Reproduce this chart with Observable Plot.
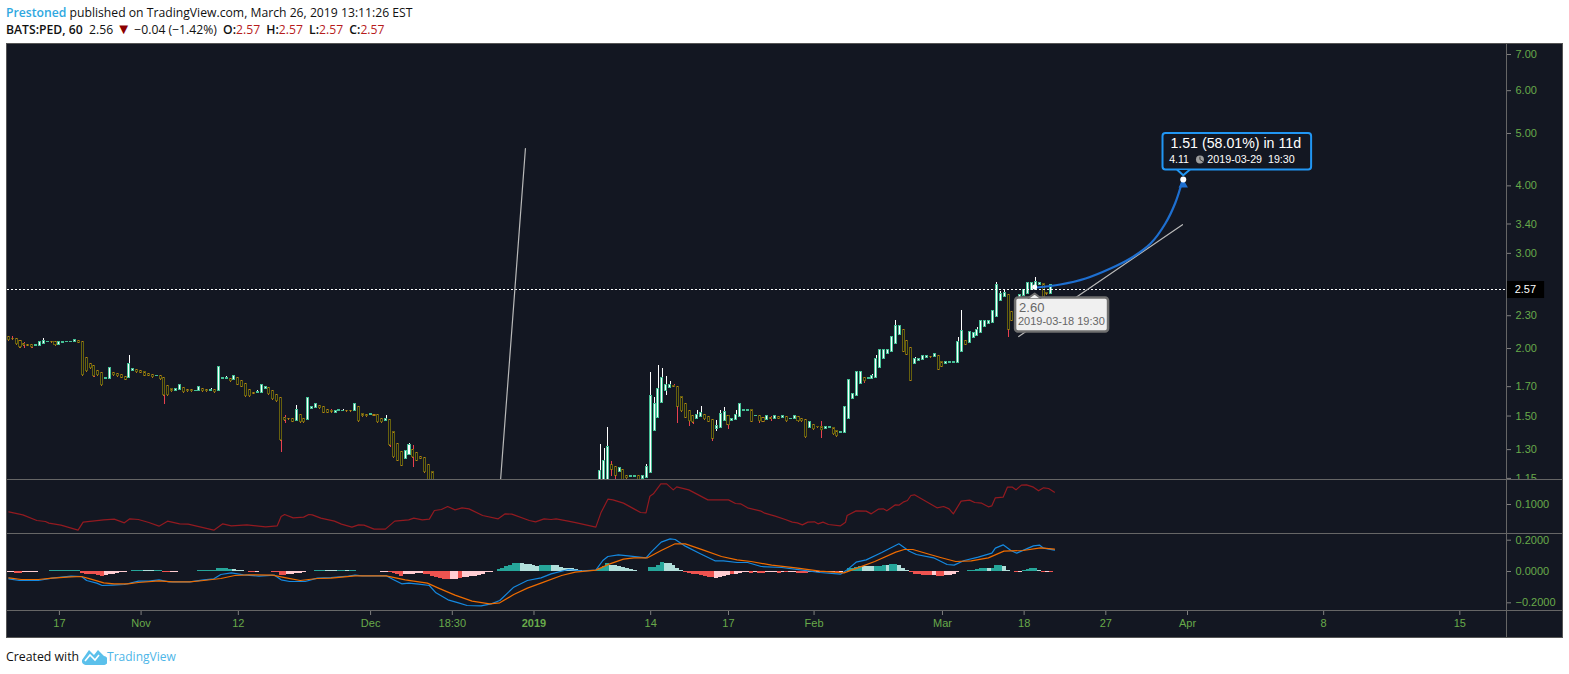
<!DOCTYPE html>
<html>
<head>
<meta charset="utf-8">
<script src="https://cdn.jsdelivr.net/npm/d3@7"></script>
<script src="https://cdn.jsdelivr.net/npm/@observablehq/plot@0.6"></script>
<style>
html,body{margin:0;padding:0;background:#fff;width:1569px;height:674px;overflow:hidden;}
#head{position:absolute;left:6px;top:4px;font:12.2px/17px "Open Sans",sans-serif;color:#111;white-space:pre;}
#head .who{color:#2fa8df;font-weight:600}
#head b{font-weight:600}
#head .v{color:#b71c1c;margin-right:3px}
#head .t{color:#8b0000;font-size:15px;line-height:12px}
#head .g{margin-left:3px}
#frame{position:absolute;left:6px;top:43px;width:1557px;height:595px;box-sizing:border-box;border:1px solid #555;background:#131722;}
#panes svg{display:block;overflow:hidden;background:transparent}
.div{height:1px;background:#666;width:1555px}
#vline{position:absolute;left:1499px;top:0;width:1px;height:593px;background:#666}
#foot{position:absolute;left:6px;top:648px;font:12.3px/17px "Open Sans",sans-serif;color:#111;white-space:pre;display:flex;align-items:center}
#foot span{color:#4db6e8;margin-left:0;font-size:12px}
#foot svg{margin-left:3px}
</style>
</head>
<body>
<div id="head"><span class="who">Prestoned</span> published on TradingView.com, March 26, 2019 13:11:26 EST
<b>BATS:PED, 60</b>  2.56 <span class="t">▼</span> −0.04 (−1.42%) <b class="g">O:</b><span class="v">2.57</span> <b>H:</b><span class="v">2.57</span> <b>L:</b><span class="v">2.57</span> <b>C:</b><span class="v">2.57</span></div>
<div id="frame"><div id="panes"></div><div id="vline"></div></div>
<div id="foot">Created with<svg width="25" height="16" viewBox="0 0 25 16"><path d="M0 11 L7 1 L12 6 L16 1 L22 7 A4.5 4.5 0 0 1 21 16 L4 16 A4 4 0 0 1 0 11 Z" fill="#5bc0eb"/><path d="M3 12 L8 6 L13 11 L17 6" fill="none" stroke="#fff" stroke-width="1.6"/></svg><span>TradingView</span></div>
<script>
// ---- Candles: bars 0..109 and 152..268 (the bars between sit below the visible price range)
const firstStart = 0;
const firstOpen = [2.102,2.084,2.084,2.066,2.040,2.031,2.031,2.020,2.020,2.037,2.054,2.057,2.057,2.034,2.046,2.054,2.057,2.054,2.069,2.057,
1.922,1.874,1.858,1.818,1.803,1.755,1.755,1.803,1.795,1.787,1.772,1.763,1.816,1.826,1.818,1.808,1.795,1.787,1.777,1.780,
1.765,1.706,1.682,1.667,1.674,1.691,1.677,1.677,1.667,1.667,1.684,1.677,1.672,1.677,1.667,1.755,1.755,1.758,1.748,1.765,
1.743,1.720,1.677,1.655,1.653,1.653,1.682,1.691,1.670,1.641,1.620,1.488,1.482,1.482,1.467,1.507,1.482,1.474,1.544,1.550,
1.566,1.559,1.540,1.531,1.522,1.531,1.531,1.533,1.533,1.531,1.559,1.513,1.507,1.505,1.507,1.507,1.482,1.467,1.476,1.400,
1.332,1.288,1.249,1.270,1.299,1.283,1.261,1.256,1.220,1.181];
const firstClose = [2.072,2.081,2.037,2.011,2.026,2.023,2.011,2.034,2.060,2.069,2.057,2.054,2.029,2.057,2.057,2.057,2.060,2.075,2.049,1.785,
1.816,1.839,1.777,1.785,1.710,1.765,1.842,1.785,1.777,1.765,1.750,1.874,1.834,1.808,1.803,1.780,1.780,1.770,1.780,1.755,
1.639,1.639,1.667,1.684,1.713,1.660,1.667,1.667,1.670,1.699,1.667,1.667,1.679,1.660,1.850,1.765,1.765,1.740,1.780,1.713,
1.699,1.632,1.632,1.648,1.662,1.713,1.699,1.646,1.611,1.597,1.352,1.474,1.480,1.463,1.540,1.461,1.461,1.620,1.559,1.579,
1.552,1.520,1.520,1.526,1.533,1.542,1.535,1.531,1.531,1.579,1.467,1.499,1.499,1.513,1.501,1.461,1.461,1.484,1.324,1.259,
1.239,1.213,1.293,1.326,1.259,1.239,1.251,1.180,1.130,1.120];
const secondStart = 152;
const secondOpen = [1.120,1.120,1.130,1.218,1.208,1.180,1.193,1.162,1.156,1.156,1.162,1.145,1.153,1.176,1.405,1.486,1.584,1.672,1.691,1.703,
1.698,1.626,1.579,1.533,1.501,1.480,1.495,1.507,1.495,1.476,1.417,1.425,1.467,1.501,1.467,1.474,1.495,1.535,1.535,1.539,
1.499,1.501,1.488,1.476,1.488,1.480,1.495,1.488,1.495,1.480,1.480,1.495,1.482,1.476,1.423,1.445,1.431,1.431,1.417,1.423,
1.425,1.407,1.393,1.395,1.482,1.614,1.634,1.720,1.765,1.755,1.755,1.765,1.842,1.913,1.955,1.969,2.040,2.117,2.165,2.066,
2.006,1.874,1.896,1.905,1.922,1.930,1.930,1.938,1.888,1.871,1.877,1.880,1.883,1.969,2.066,2.048,2.093,2.110,2.135,2.193,
2.222,2.228,2.289,2.454,2.492,2.515,2.338,2.300,2.450,2.500,2.525,2.561,2.561,2.617,2.632,2.529,2.525];
const secondClose = [1.187,1.239,1.314,1.193,1.162,1.203,1.130,1.151,1.162,1.162,1.143,1.162,1.208,1.634,1.579,1.684,1.765,1.713,1.713,1.701,
1.559,1.531,1.488,1.467,1.461,1.507,1.520,1.480,1.463,1.363,1.438,1.513,1.527,1.445,1.482,1.507,1.579,1.539,1.539,1.463,
1.503,1.467,1.463,1.501,1.484,1.501,1.482,1.501,1.467,1.484,1.501,1.467,1.467,1.369,1.463,1.419,1.429,1.413,1.431,1.431,
1.389,1.375,1.401,1.559,1.750,1.648,1.811,1.811,1.738,1.765,1.782,1.916,1.989,1.989,1.989,2.102,2.203,2.203,1.972,1.947,
1.743,1.913,1.913,1.938,1.938,1.927,1.955,1.828,1.850,1.886,1.886,1.891,2.057,2.155,2.031,2.146,2.135,2.165,2.250,2.250,
2.250,2.348,2.624,2.525,2.533,2.165,2.250,2.440,2.510,2.563,2.644,2.644,2.655,2.644,2.489,2.521,2.624];
const wickBars = [1,4,6,9,22,31,40,42,52,56,64,70,71,74,83,86,97,98,103,104,
152,153,154,155,156,164,165,166,167,168,169,170,171,172,174,175,176,177,178,181,182,183,184,185,187,193,196,209,220,222,223,228,233,244,245,249,254,255,256,257,264];
const wickHighs = [2.105,2.052,null,2.087,null,1.941,null,1.686,1.686,1.775,1.672,null,1.501,1.572,1.540,1.542,1.503,null,1.332,1.321,
1.331,1.305,1.431,1.234,null,1.220,1.803,1.620,1.860,1.834,1.775,1.738,1.715,null,null,null,null,1.533,1.562,null,1.470,1.539,1.553,null,1.533,null,1.497,1.463,null,1.790,1.941,2.250,1.923,2.093,2.349,2.187,2.647,2.547,2.565,null,2.702];
const wickLows = [null,2.000,2.000,null,1.770,null,1.577,1.662,null,null,null,1.286,1.455,null,1.518,null,null,1.313,null,1.206,
null,null,null,1.159,1.143,null,null,null,null,null,1.636,null,1.691,1.455,1.482,1.437,1.449,null,null,1.346,1.405,null,null,1.417,null,1.455,1.467,1.363,1.725,null,null,null,null,null,null,null,null,null,null,2.093,null];

// ---- Upper indicator line
const bandBars = [0,3.6,7.2,9.4,10.3,13.4,17.8,19.1,24.4,27.1,29.7,31.1,33.3,36,38.6,40.8,43.9,46.1,52.7,55,57.2,61.2,66,69,70,70.9,73.1,75.8,77.1,78,80.2,83.7,85.5,88.2,89.9,91.3,93.9,96.8,99.2,102.8,104.1,106.3,108.1,109.4,111.2,112.8,114.7,116.5,118.3,121.8,125.8,127.6,129.3,133.8,
135.4,137.6,139.4,140.7,143.8,146,150.9,152.2,154,155.3,158,160.7,162.4,163.8,164.8,165.7,167.6,169.1,170.8,171.7,174.8,179.7,185,186.8,188.1,189.9,193.4,194.3,197,199.6,201.4,202.7,204,205.4,207.1,208,209.3,210.7,213.8,215.1,215.5,217.8,220.4,221.7,223.5,224.8,225.7,227.9,228.8,229.9,231,231.9,232.8,238.6,240.3,241.7,242.8,244.8,247,248.3,250.1,251.8,252.7,253.6,255.6,256.7,258,258.9,260.3,261.6,263.4,264.7,266,267.3,268.8];
const bandValues = [.0853,.0793,.068,.066,.0627,.0587,.0487,.0647,.0693,.0707,.0633,.0713,.07,.064,.0567,.0667,.0613,.0607,.0487,.0613,.0573,.0593,.0553,.0573,.076,.08,.0733,.0747,.08,.0793,.0727,.0667,.0607,.0547,.0593,.0587,.0507,.0507,.0667,.0693,.0727,.0693,.0707,.088,.09,.096,.0893,.0933,.0913,.078,.0713,.0813,.0807,.068,
.0653,.0713,.07,.0713,.0667,.0633,.0547,.0833,.1107,.1093,.1027,.0913,.084,.0833,.1167,.1213,.1413,.1413,.1293,.1353,.1293,.1093,.1093,.102,.1013,.0933,.0867,.0827,.0767,.07,.0647,.0633,.0593,.0647,.0653,.0613,.0647,.06,.0573,.0647,.078,.0873,.0867,.0813,.0907,.0913,.0873,.0993,.0987,.1047,.108,.118,.1193,.0933,.096,.0913,.0813,.1067,.1087,.104,.1027,.0953,.0973,.1133,.1147,.1347,.1347,.1293,.1387,.1393,.1347,.1273,.1333,.132,.1247];

// ---- MACD lines
const macdBars = [0,2.7,7.6,11.1,16,18.7,20,22.6,24,26.6,29.7,33.3,36,38.6,41.2,46.5,50.1,52.7,54.5,57.2,60.3,64.3,68.3,70,72.2,76.2,79.3,82.8,87.3,89,90.8,97,98.8,101,102.8,105.4,108.1,109.8,112.9,115.6,117.8,121.4,124,126.2,129.8,133.3,
136.8,139.4,143.8,147.4,150.9,152.7,154,156.7,159.8,163.8,165.1,167.7,170,171.3,173.9,177.5,181.5,183.7,187.2,189.9,193.4,198.7,204,208.5,213.8,215.5,217.8,220.4,224.4,228.8,231.5,233.3,237.7,241.2,243,245.6,249.2,252.7,253.6,255.6,257.6,259.1,261.6,263.4,265,266,268.8];
const macdValues = [-.0469,-.0575,-.0575,-.0426,-.0298,-.0319,-.0575,-.0745,-.0895,-.0873,-.0831,-.0618,-.0618,-.0532,-.066,-.066,-.0532,-.0469,-.0192,-.0085,-.0213,-.0298,-.0234,-.0532,-.0639,-.0639,-.0426,-.0383,-.0298,-.0234,-.0277,-.0277,-.0511,-.0788,-.0745,-.0809,-.0895,-.1363,-.181,-.2002,-.2173,-.2194,-.2066,-.1853,-.1001,-.0575,
-.0405,-.0149,.0128,.0043,.0085,.0703,.0958,.1065,.098,.0873,.1235,.1874,.2087,.2045,.1619,.1171,.0682,.0682,.0575,.0575,.0319,.0256,.0085,-.0064,-.017,.0106,.0596,.0745,.1214,.1768,.1299,.1086,.0873,.0447,.0405,.0703,.0916,.1171,.1491,.1704,.1342,.1171,.1448,.164,.1683,.1491,.1363];
const signalBars = [0,3.2,7.6,11.1,16,18.7,20.9,24.4,27.1,30.6,33.3,38.6,42.1,46.5,50.1,54.5,58.1,61.6,67.8,71.3,74.9,79.3,82.8,89,97,101.9,107.6,110.3,114.7,119.1,123.6,126.2,129.8,133.3,
136.8,142.1,145.6,150.9,154.5,158,160.7,164.2,167.7,171.3,173.9,178.4,183.2,187.2,190.8,196.1,202.3,208.5,214.7,218.2,222.6,228,230.2,232.4,236.8,239.5,243.4,247.4,251.8,255.8,260.7,265.2,268.8];
const signalValues = [-.0405,-.0511,-.0511,-.0426,-.0341,-.0319,-.0469,-.0724,-.0788,-.0788,-.0703,-.0596,-.066,-.066,-.0575,-.0447,-.0256,-.0213,-.0234,-.0405,-.0575,-.0447,-.0426,-.0277,-.0277,-.0532,-.0745,-.1044,-.1512,-.1896,-.2066,-.2002,-.147,-.1065,
-.0745,-.0256,-.0043,.0085,.049,.0788,.0873,.0873,.1342,.1768,.1768,.1384,.0958,.0745,.0639,.0405,.0234,.0021,-.0085,.0234,.0639,.1235,.1406,.1406,.1086,.0895,.0639,.0682,.0873,.1299,.1342,.1512,.1427];

// ---- MACD histogram: runs of [tone, first bar, values]
const histRuns = [["p",0,[-.008,-.008]],["r",2,[-.01,-.01]],["p",4,[-.008,-.008,-.006,-.004]],["t",11,[.004,.004,.004,.004,.004,.004,.004,.004]],
["r",19,[-.012,-.018,-.02,-.02,-.025,-.03]],["p",25,[-.026,-.022,-.018,-.012,-.008,-.004]],["t",32,[.004,.004,.004]],["a",35,[.004,.004,.004]],["t",38,[.004,.004]],
["r",40,[-.006,-.006]],["p",42,[-.004,-.004]],["t",49,[.004,.004,.004,.004,.004]],["t",54,[.018,.018,.018,.014]],["a",58,[.012,.008,.004]],["r",62,[-.005,-.005]],["p",64,[-.004]],
["r",68,[-.006,-.006,-.026,-.026]],["p",72,[-.022,-.018,-.014,-.01,-.006]],["t",79,[.004,.004,.004]],["a",82,[.004,.004,.004]],["t",85,[.004,.004]],["a",87,[.004]],["t",88,[.004,.004]],
["p",96,[-.004,-.004]],["r",98,[-.008,-.014,-.018,-.03]],["p",102,[-.022,-.018,-.016,-.014,-.014]],["r",107,[-.018,-.02,-.03,-.04,-.046,-.048,-.05]],["p",114,[-.05,-.05]],["r",116,[-.044]],
["p",117,[-.04,-.038,-.034,-.03,-.024,-.016,-.008,-.004]],["t",126,[.015,.022,.03,.036,.049,.05]],["a",132,[.05,.046,.044,.04,.032]],["t",137,[.04,.04,.04]],["a",140,[.038,.036,.024,.022,.018,.016,.012,.008]],
["t",151,[.006,.018,.03,.048]],["a",155,[.04,.036,.032,.026,.02,.014,.006]],["t",165,[.023,.026,.04,.056]],["a",169,[.052,.048,.036,.02,.008]],["r",174,[-.006,-.01,-.016,-.02,-.026,-.03,-.04,-.04]],
["p",182,[-.044,-.04,-.034,-.028]],["r",186,[-.02]],["p",187,[-.016,-.012,-.008,-.008]],["r",191,[-.01]],["p",192,[-.008]],["r",193,[-.01,-.01]],["p",195,[-.008,-.008,-.008]],["r",198,[-.01]],["p",199,[-.008]],["r",200,[-.008]],["p",201,[-.008,-.008]],
["r",203,[-.01,-.01,-.014]],["p",206,[-.008]],["r",207,[-.008]],["p",208,[-.008]],["r",209,[-.008]],["p",210,[-.006,-.006,-.006]],["r",213,[-.006]],["p",214,[-.004]],
["t",216,[.018,.02,.024,.03]],["a",220,[.03,.03,.03]],["t",223,[.03,.03,.036]],["a",226,[.036]],["t",227,[.044,.044]],["a",229,[.04,.022,.008]],
["r",232,[-.008,-.02,-.022,-.024,-.024,-.024]],["p",238,[-.024]],["r",239,[-.03,-.03]],["p",241,[-.026,-.026,-.016,-.008]],["t",247,[.004,.008,.012,.016,.016]],["a",252,[.016]],["t",253,[.018,.036,.038]],["a",256,[.03,.006]],
["r",259,[-.008]],["p",260,[-.006]],["t",261,[.008,.012,.016,.016]],["a",265,[.008]],["r",266,[-.004]],["p",267,[-.004]],["r",268,[-.008]]];
const toneColors = {t:"#26a69a",a:"#b2dfdb",r:"#ef5350",p:"#ffcdd2"};

// ---- Axes
const priceTicks = [7,6,5,4,3.4,3,2.3,2,1.7,1.5,1.3,1.15];
const bandTicks = [0.1];
const macdTicks = [0.2,0,-0.2];
const timeTickBars = [13,34,59,93,114,165,185,207,240,261,282,303,338,373];
const timeTickLabels = ["17","Nov","12","Dec","18:30","14","17","Feb","Mar","18","27","Apr","8","15"];
const yearTickBar = [135];
const yearTickLabel = "2019";

// ---- Drawings
const lastPrice = 2.57;
const gutterBars = [385,394.8];
const priceBox = [2.661,2.475];
const priceLabelBar = 387.1;
const steepLineBars = [126.4,132.8];
const steepLinePrices = [1.14,4.69];
const riseLineBars = [259.6,301.7];
const riseLinePrices = [2.105,3.39];
const pathBars = [264.2,270.3,276.8,283.2,288.3,293.5,297.3,299.9,301.7];
const pathPrices = [2.594,2.627,2.695,2.812,2.935,3.128,3.407,3.726,4.092];
const pathTipBar = 301.9, pathTipPrice = 4.11, pathHeadPrice = 4.02, pathStartBar = 263.7, pathStartPrice = 2.60;
const blueBoxBars = [296.7,334.9], blueBoxPrices = [4.999,4.279];
const bluePointerBars = [300.4,301.9,303.5], bluePointerPrices = [4.279,4.185,4.279];
const greyBoxBars = [258.8,282.7], greyBoxPrices = [2.480,2.146];
const greyPointerBars = [262.1,263.7,265.2], greyPointerPrices = [2.480,2.528,2.480];

// ---- Build tables
const up = "#45bf95", down = "#66600e", ember = "#b9761c", wickUp = "#ffffff", wickDown = "#e8404f";
const candles = [
  ...firstOpen.map((o,k)=>({bar:firstStart+k,o,c:firstClose[k]})),
  ...secondOpen.map((o,k)=>({bar:secondStart+k,o,c:secondClose[k]}))
];
const byBar = new Map(candles.map(d=>[d.bar,d]));
const wicks = wickBars.map((bar,k)=>{
  const d = byBar.get(bar);
  return {bar, hi:wickHighs[k] ?? Math.max(d.o,d.c), lo:wickLows[k] ?? Math.min(d.o,d.c), isUp:d.c>=d.o};
});
const ups = candles.filter(d=>d.c>=d.o), downs = candles.filter(d=>d.c<d.o);
const hist = histRuns.flatMap(([tone,start,vals])=>vals.map((v,k)=>({bar:start+k,v,tone})));

const W = 1555, MR = 56;
const xScale = {domain:[-0.342,385]};
const axisFont = {fontFamily:"Liberation Sans, Arial, sans-serif",fontSize:11};
const tickCol = "#7f7f7f", labelCol = "#68aa4a";
const base = {width:W,marginLeft:0,marginRight:MR,marginTop:0,marginBottom:0,x:{...xScale,axis:null},style:{background:"transparent",color:"#ccc",overflow:"hidden"}};
const sans = "Liberation Sans, Arial, sans-serif";
const L = (xs,ys)=>xs.map((x,k)=>({x,y:ys[k]}));

const pricePane = Plot.plot({...base,height:435,
  y:{type:"log",domain:[1.1446,7.305],axis:null},
  marks:[
    Plot.ruleX(wicks,{x:"bar",y1:"lo",y2:"hi",stroke:d=>d.isUp?wickUp:wickDown,strokeWidth:1,clip:true,shapeRendering:"crispEdges"}),
    Plot.rect(downs,{x1:d=>d.bar-.26,x2:d=>d.bar+.26,y1:"o",y2:"c",fill:"#131722",stroke:down,strokeWidth:1,clip:true,shapeRendering:"crispEdges"}),
    Plot.ruleY(downs,{y:"o",x1:d=>d.bar-.13,x2:d=>d.bar+.13,stroke:ember,clip:true,shapeRendering:"crispEdges"}),
    Plot.ruleY(downs,{y:"c",x1:d=>d.bar-.13,x2:d=>d.bar+.13,stroke:ember,clip:true,shapeRendering:"crispEdges"}),
    Plot.rect(ups,{x1:d=>d.bar-.26,x2:d=>d.bar+.26,y1:"o",y2:"c",fill:"#fff",stroke:up,strokeWidth:1,clip:true,shapeRendering:"crispEdges"}),
    Plot.ruleY([lastPrice],{stroke:"#fff",strokeDasharray:"2,2",strokeWidth:1,shapeRendering:"crispEdges"}),
    Plot.line(L(steepLineBars,steepLinePrices),{x:"x",y:"y",stroke:"#b9b9b9",strokeWidth:1.2,clip:true}),
    Plot.line(L(riseLineBars,riseLinePrices),{x:"x",y:"y",stroke:"#b9b9b9",strokeWidth:1.2}),
    Plot.line(L(pathBars,pathPrices),{x:"x",y:"y",stroke:"#1e6fd0",strokeWidth:2.2,curve:"catmull-rom"}),
    Plot.dot([{x:pathTipBar,y:pathHeadPrice}],{x:"x",y:"y",symbol:"triangle",r:3.5,fill:"#1e6fd0"}),
    Plot.dot([{x:pathTipBar,y:pathTipPrice}],{x:"x",y:"y",r:3,fill:"#fff"}),
    Plot.dot([{x:pathStartBar,y:pathStartPrice}],{x:"x",y:"y",r:2.5,fill:"#fff"}),
    // blue callout
    Plot.rect([0],{x1:blueBoxBars[0],x2:blueBoxBars[1],y1:blueBoxPrices[0],y2:blueBoxPrices[1],fill:"#131722",stroke:"#2196f3",strokeWidth:2,rx:3}),
    Plot.line(L(bluePointerBars,bluePointerPrices),{x:"x",y:"y",stroke:"#2196f3",strokeWidth:2,fill:"#131722"}),
    Plot.text(["1.51 (58.01%) in 11d"],{x:298.6,y:4.784,textAnchor:"start",fill:"#fff",fontSize:14.2,fontFamily:sans}),
    Plot.text(["4.11"],{x:298.3,y:4.474,textAnchor:"start",fill:"#fff",fontSize:10.5,fontFamily:sans}),
    Plot.dot([0],{x:306.2,y:4.474,r:4,fill:"#9e9e9e"}),
    Plot.line([{x:306.2,y:4.52},{x:306.2,y:4.474},{x:307.1,y:4.43}],{x:"x",y:"y",stroke:"#333",strokeWidth:1}),
    Plot.text(["2019-03-29  19:30"],{x:308.1,y:4.474,textAnchor:"start",fill:"#fff",fontSize:10.7,fontFamily:sans}),
    // grey callout
    Plot.rect([0],{x1:greyBoxBars[0],x2:greyBoxBars[1],y1:greyBoxPrices[0],y2:greyBoxPrices[1],fill:"#f0f0f0",stroke:"#6f6f6f",strokeWidth:2.5,rx:3}),
    Plot.line(L(greyPointerBars,greyPointerPrices),{x:"x",y:"y",stroke:"#6f6f6f",strokeWidth:2,fill:"#f0f0f0"}),
    Plot.text(["2.60"],{x:259.7,y:2.382,textAnchor:"start",fill:"#666",fontSize:13,fontFamily:sans}),
    Plot.text(["2019-03-18 19:30"],{x:259.4,y:2.249,textAnchor:"start",fill:"#666",fontSize:11,fontFamily:sans}),
    // axis
    Plot.axisY(priceTicks,{anchor:"right",stroke:tickCol,fill:labelCol,tickSize:4,tickPadding:5,tickFormat:d=>d.toFixed(2),label:null,...axisFont}),
    Plot.rect([0],{x1:gutterBars[0],x2:gutterBars[1],y1:priceBox[0],y2:priceBox[1],fill:"#000"}),
    Plot.text([lastPrice.toFixed(2)],{x:priceLabelBar,y:lastPrice,textAnchor:"start",fill:"#fff",...axisFont})
  ]});

const bandPane = Plot.plot({...base,height:53,
  y:{domain:[.042,.148],axis:null},
  marks:[
    Plot.line(L(bandBars,bandValues),{x:"x",y:"y",stroke:"#931a20",strokeWidth:1.2}),
    Plot.axisY(bandTicks,{anchor:"right",stroke:tickCol,fill:labelCol,tickSize:4,tickPadding:5,tickFormat:d=>d.toFixed(4),label:null,...axisFont})
  ]});

const macdPane = Plot.plot({...base,height:76,
  y:{domain:[-.2492,.2364],axis:null},
  marks:[
    Plot.rect(hist,{x1:d=>d.bar-.5,x2:d=>d.bar+.5,y1:0,y2:"v",fill:d=>toneColors[d.tone],shapeRendering:"crispEdges"}),
    Plot.line(L(macdBars,macdValues),{x:"x",y:"y",stroke:"#1589e0",strokeWidth:1.2}),
    Plot.line(L(signalBars,signalValues),{x:"x",y:"y",stroke:"#ef6c00",strokeWidth:1.2}),
    Plot.axisY(macdTicks,{anchor:"right",stroke:tickCol,fill:labelCol,tickSize:4,tickPadding:5,tickFormat:d=>d.toFixed(4).replace("-","−"),label:null,...axisFont})
  ]});

const timePane = Plot.plot({...base,height:26,marginBottom:26,
  marks:[
    Plot.axisX(timeTickBars,{anchor:"bottom",stroke:tickCol,fill:labelCol,tickSize:4,tickPadding:4,tickFormat:(d,k)=>timeTickLabels[timeTickBars.indexOf(d)],label:null,...axisFont}),
    Plot.axisX(yearTickBar,{anchor:"bottom",stroke:tickCol,fill:labelCol,tickSize:4,tickPadding:4,tickFormat:()=>yearTickLabel,label:null,fontWeight:"bold",...axisFont})
  ]});

const panes = document.getElementById("panes");
[pricePane,"d",bandPane,"d",macdPane,"d",timePane].forEach(p=>{
  if (p==="d"){const e=document.createElement("div");e.className="div";panes.appendChild(e);}
  else panes.appendChild(p);
});
</script>
</body>
</html>
